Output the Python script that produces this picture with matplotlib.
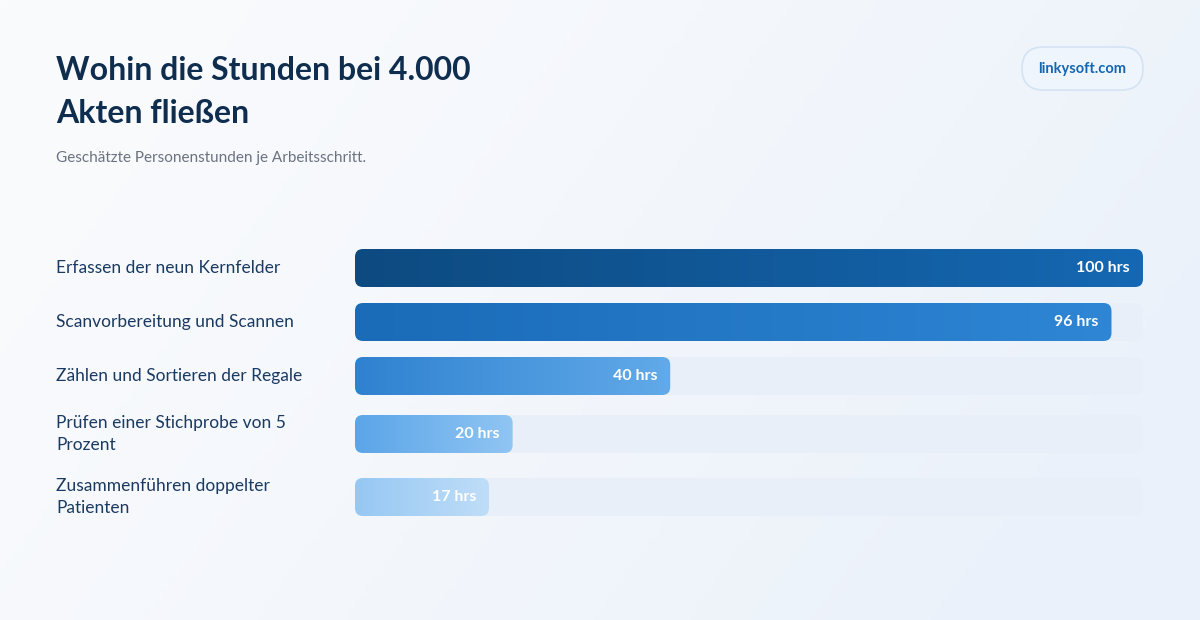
import numpy as np
import matplotlib.pyplot as plt
from matplotlib.patches import FancyBboxPatch
from matplotlib.colors import LinearSegmentedColormap, to_rgb

categories = ['Erfassen der neun Kernfelder',
              'Scanvorbereitung und Scannen',
              'Zählen und Sortieren der Regale',
              'Prüfen einer Stichprobe von 5\nProzent',
              'Zusammenführen doppelter\nPatienten']
hours = [100, 96, 40, 20, 17]
value_labels = ['100 hrs', '96 hrs', '40 hrs', '20 hrs', '17 hrs']
title_lines = ['Wohin die Stunden bei 4.000', 'Akten fließen']
subtitle = 'Geschätzte Personenstunden je Arbeitsschritt.'
brand = 'linkysoft.com'

# layout (pixels)
W, H = 1200, 620
track_x0, track_x1 = 355, 1143
row_y = [268, 322, 376, 434, 497]
bar_h = 38
grad_colors = [('#0D4A80', '#1568B3'),
               ('#1A6BB8', '#2E86D4'),
               ('#2F82D0', '#62AAE9'),
               ('#5BA5E8', '#90C5F3'),
               ('#96C8F3', '#BFDDF8')]

plt.rcParams['font.family'] = ['Lato', 'DejaVu Sans']

fig = plt.figure(figsize=(12, 6.2), dpi=100)

# background
bg = fig.add_axes([0, 0, 1, 1])
bg.set_xlim(0, W)
bg.set_ylim(H, 0)
bg.axis('off')
xx, yy = np.meshgrid(np.linspace(0, 1, 200), np.linspace(0, 1, 100))
t = np.clip(0.8 * xx + 0.3 * yy, 0, 1) ** 1.3
c0, c1 = np.array(to_rgb('#FAFBFD')), np.array(to_rgb('#EAF1FA'))
img = c0 + (c1 - c0) * t[..., None]
bg.imshow(img, extent=[0, W, H, 0], aspect='auto', zorder=0)

# title, subtitle
for line, yb in zip(title_lines, [80, 123]):
    bg.text(56, yb, line, fontsize=23, fontweight='bold',
            color='#0F2D4E', va='baseline', ha='left')
bg.text(56, 158, subtitle, fontsize=11, color='#6B7280', va='center', ha='left')

# brand badge
badge = FancyBboxPatch((1022, 47), 121, 43, boxstyle='round,pad=0,rounding_size=21.5',
                       facecolor='#EEF5FD', edgecolor='#D3E3F4', linewidth=1.2, zorder=2)
bg.add_patch(badge)
bg.text(1082.5, 69, brand, fontsize=10.5, fontweight='bold', color='#1565B0',
        ha='center', va='center', zorder=3)

# category labels
for lab, y in zip(categories, row_y):
    bg.text(56, y, lab, fontsize=12.5, color='#1B3A62', ha='left', va='center',
            linespacing=1.4, zorder=3)

# bars axes: x in hours, y in pixels
ax = fig.add_axes([track_x0 / W, 0, (track_x1 - track_x0) / W, 1])
ax.set_xlim(0, 100)
ax.set_ylim(H, 0)
ax.axis('off')
ax.patch.set_alpha(0)
px_per_unit = (track_x1 - track_x0) / 100
r = 8 / px_per_unit

for v, y, (ca, cb), lab in zip(hours, row_y, grad_colors, value_labels):
    top = y - bar_h / 2
    track = FancyBboxPatch((0, top), 100, bar_h,
                           boxstyle='round,pad=0,rounding_size=%f' % r,
                           mutation_aspect=px_per_unit,
                           facecolor='#E8EFF8', edgecolor='none', zorder=1)
    ax.add_patch(track)
    bar = FancyBboxPatch((0, top), v, bar_h,
                         boxstyle='round,pad=0,rounding_size=%f' % r,
                         mutation_aspect=px_per_unit,
                         facecolor='none', edgecolor='none', zorder=2)
    ax.add_patch(bar)
    cmap = LinearSegmentedColormap.from_list('g', [ca, cb])
    im = ax.imshow(np.linspace(0, 1, 256)[None, :], cmap=cmap, aspect='auto',
                   extent=[0, v, top + bar_h, top], zorder=2)
    im.set_clip_path(bar)
    ax.text(v - 13 / px_per_unit, y, lab, fontsize=11.5, fontweight='bold',
            color='white', ha='right', va='center', zorder=3)

ax.set_xlim(0, 100)
ax.set_ylim(H, 0)

fig.savefig('out.png', dpi=100)
